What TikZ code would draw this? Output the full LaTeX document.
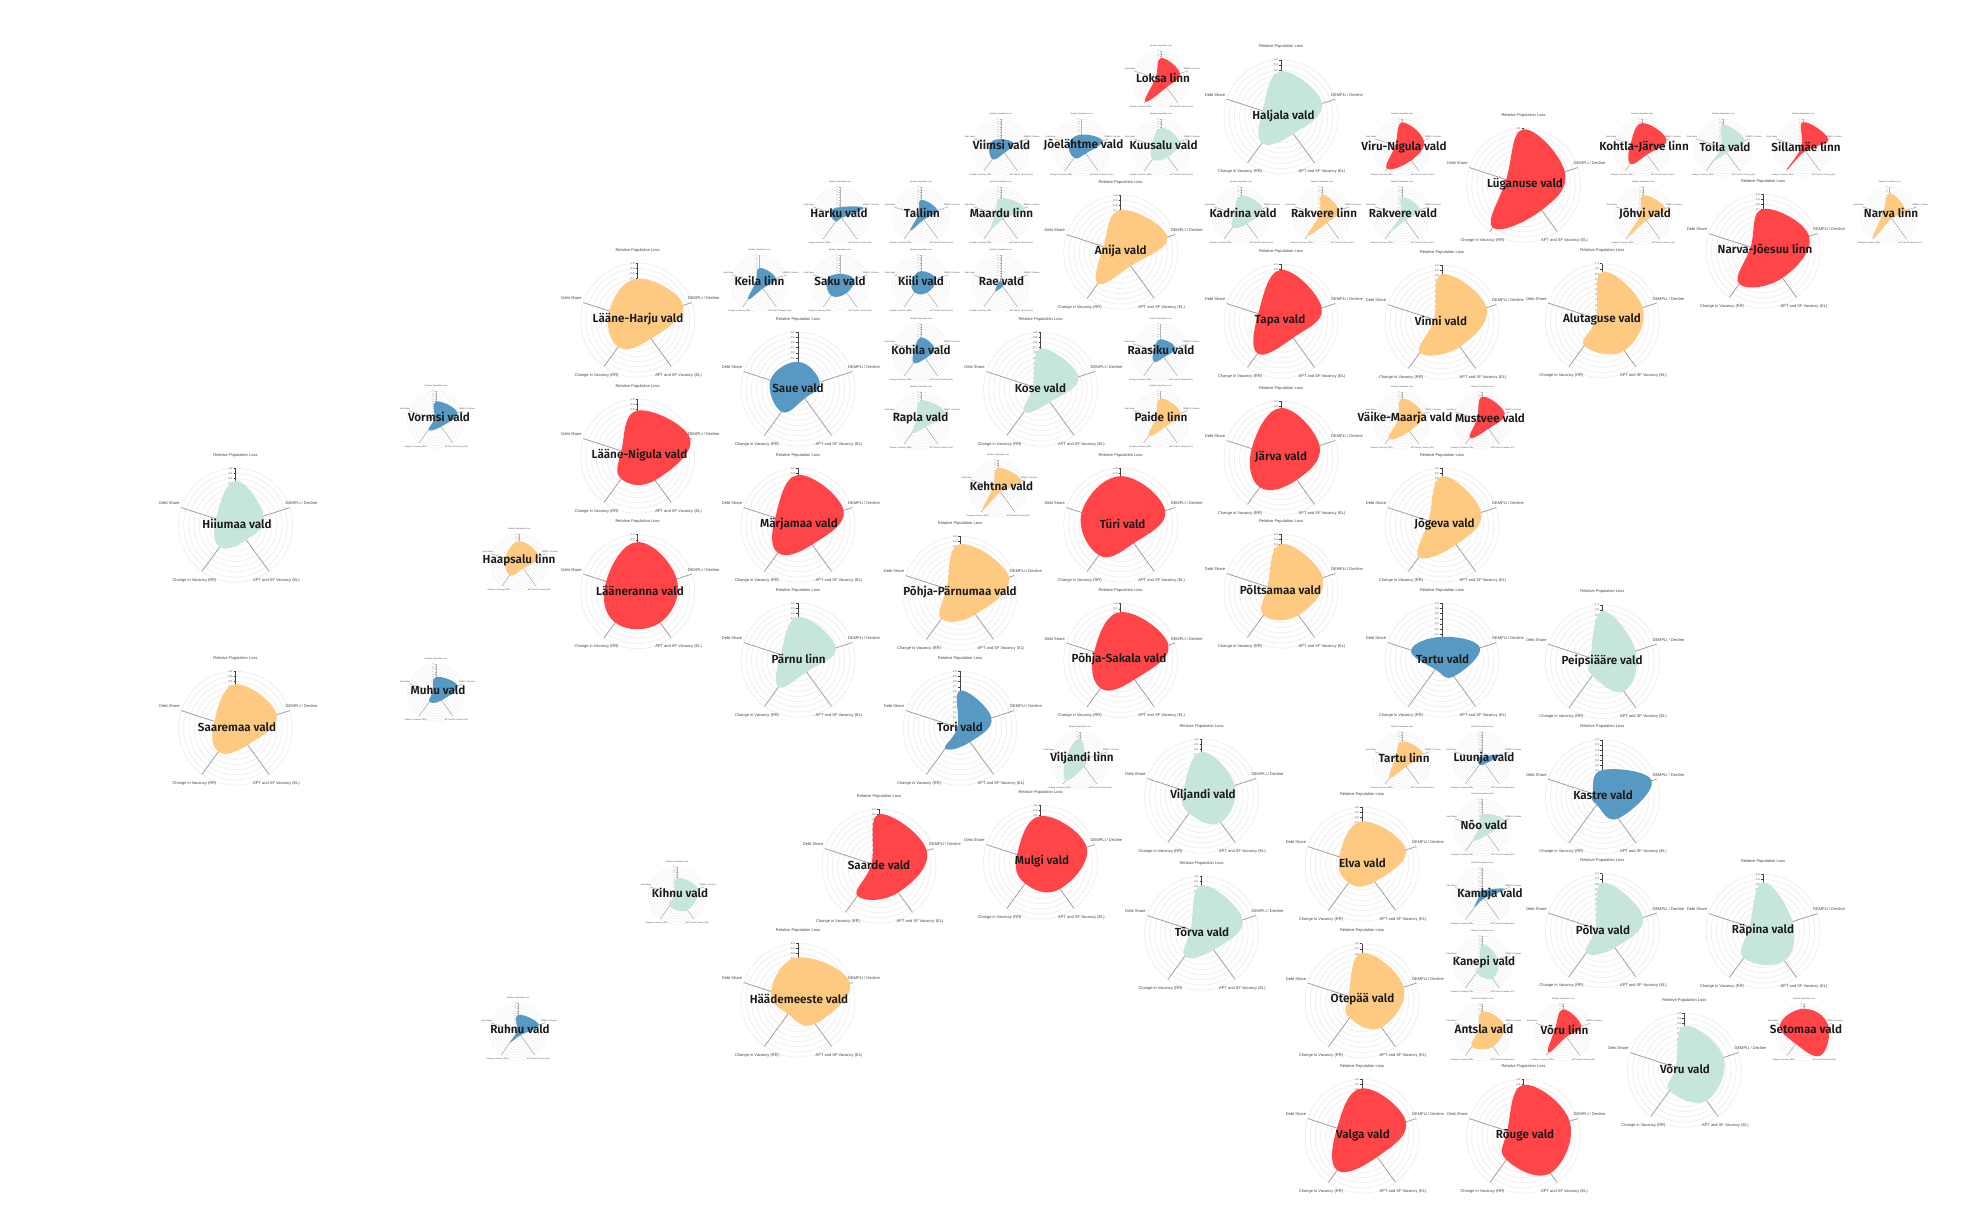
\documentclass[tikz,border=0pt]{standalone}
\usepackage{fontspec}
\setmainfont{Liberation Sans}
\newfontfamily\lblfont{Fira Sans SemiBold}
\pgfdeclarelayer{labels}
\pgfsetlayers{main,labels}
\definecolor{cred}{HTML}{FF4548}
\definecolor{corg}{HTML}{FEC980}
\definecolor{cmint}{HTML}{C7E6DA}
\definecolor{cblue}{HTML}{5799C3}
\definecolor{cring}{HTML}{EEEEEE}
\definecolor{caxis}{HTML}{A0A0A0}
\definecolor{ctxt}{HTML}{444444}
\tikzset{
  axlabel/.style={inner sep=0,text=ctxt},
  ticklabel/.style={inner sep=0,text=ctxt!70,anchor=east},
  mainlabel/.style={inner sep=0,text=black!90,font=\lblfont\fontsize{11.7}{13}\selectfont}
}
\newcount\radarno
\def\parsev#1,#2,#3,#4,#5\relax{\def\va{#1}\def\vb{#2}\def\vc{#3}\def\vd{#4}\def\ve{#5}}
\newcommand{\radar}[8]{%
  \global\advance\radarno by 1
  \edef\rid{r\the\radarno}%
  \parsev#8\relax
  \pgfmathsetmacro\RR{57*#6}%
  \pgfmathsetmacro\stp{\RR/11}%
  \pgfmathsetmacro\afs{4.0*#6}%
  \pgfmathsetmacro\tfs{2.9*#6}%
  \pgfmathsetmacro\lxx{70*#6-4}%
  \pgfmathsetmacro\tyy{73*#6-3}%
  \pgfmathsetmacro\dyy{4.2-3*#6}%
  \pgfmathsetmacro\rw{0.25+0.45*#6}%
  \pgfmathsetmacro\aw{0.1+0.7*#6}%
  \pgfmathsetmacro\tw{0.1+0.4*#6}%
  \pgfmathtruncatemacro\tcl{120*#6-20}%
  \begin{scope}[shift={(#2,#3+\dyy)}]
    \foreach \k in {2,...,11}{\draw[cring,line width=\rw pt] (0,0) circle[radius=\k*\stp];}
    \draw[caxis,line width=\aw pt] (0,{-\RR+9*\stp}) -- (0,0);
    \draw[caxis,line width=\aw pt] (0,0) -- ({.951*\RR},{-.309*\RR});
    \draw[caxis,line width=\aw pt] (0,0) -- ({.588*\RR},{.809*\RR});
    \draw[caxis,line width=\aw pt] (0,0) -- ({-.588*\RR},{.809*\RR});
    \draw[caxis,line width=\aw pt] (0,0) -- ({-.951*\RR},{-.309*\RR});
    \draw[ctxt!\tcl,line width=\tw pt] (0,-\RR) -- (0,{-\RR+9*\stp});
    \foreach \k/\t in {0/1.0,1/0.9,2/0.8,3/0.7,4/0.6,5/0.5,6/0.4,7/0.3,8/0.2,9/0.1}{
      \draw[ctxt!\tcl,line width=\tw pt] (0,{-\RR+\k*\stp}) -- ({-2*#6},{-\RR+\k*\stp});
      \node[ticklabel,font=\fontsize{\tfs}{\tfs}\selectfont] (\rid-t\k) at ({-3*#6},{-\RR+\k*\stp}) {\t};
    }
    \fill[#7] plot[smooth cycle,tension=0.75] coordinates {
      (0,{-\RR*\va})
      ({.951*\RR*\vb},{-.309*\RR*\vb})
      ({.588*\RR*\vc},{.809*\RR*\vc})
      ({-.588*\RR*\vd},{.809*\RR*\vd})
      ({-.951*\RR*\ve},{-.309*\RR*\ve})};
    \node[axlabel,font=\fontsize{\afs}{\afs}\selectfont] (\rid-a) at (0,-\tyy) {Relative Population Loss};
    \node[axlabel,font=\fontsize{\afs}{\afs}\selectfont] (\rid-b) at ({\lxx},{-22*#6}) {DEMPLI / Decline};
    \node[axlabel,font=\fontsize{\afs}{\afs}\selectfont] (\rid-c) at ({41*#6},{55*#6}) {APT and SF Vacancy (EL)};
    \node[axlabel,font=\fontsize{\afs}{\afs}\selectfont] (\rid-d) at ({-41*#6},{55*#6}) {Change in Vacancy (RR)};
    \node[axlabel,font=\fontsize{\afs}{\afs}\selectfont] (\rid-e) at ({-\lxx},{-22*#6}) {Debt Share};
  \end{scope}
  \begin{pgfonlayer}{labels}
    \node[mainlabel] (\rid-name) at (#4,#5) {#1};
  \end{pgfonlayer}
}
\begin{document}
\begin{tikzpicture}[x=1pt,y=-1pt]
\path[use as bounding box,fill=white] (0,0) rectangle (1980,1220);
% large charts
\radar{Hiiumaa vald}{235.5}{524}{237}{524}{1}{cmint}{.78,.52,.32,.47,.36}
\radar{Saaremaa vald}{235.5}{727}{237}{727}{1}{corg}{.77,.76,.36,.51,.39}
\radar{Lääne-Harju vald}{637.6}{319}{638}{319}{1}{corg}{.73,.84,.40,.58,.52}
\radar{Lääne-Nigula vald}{637.6}{455}{639.5}{455}{1}{cred}{.80,.97,.52,.49,.30}
\radar{Lääneranna vald}{637.6}{590.5}{640}{590.5}{1}{cred}{.87,.72,.67,.67,.58}
\radar{Saue vald}{798}{388}{798}{388}{1}{cblue}{.48,.40,.20,.49,.51}
\radar{Märjamaa vald}{798}{524}{799}{524}{1}{cred}{.88,.84,.42,.60,.42}
\radar{Pärnu linn}{798}{659}{798.6}{659}{1}{cmint}{.76,.70,.25,.58,.32}
\radar{Häädemeeste vald}{798}{999}{799}{999}{1}{corg}{.75,.96,.51,.30,.50}
\radar{Saarde vald}{879}{865}{879}{865}{1}{cred}{.91,.88,.57,.64,.14}
\radar{Põhja-Pärnumaa vald}{960}{592}{960}{592}{1}{corg}{.86,.90,.46,.55,.25}
\radar{Tori vald}{960}{727}{960}{727}{1}{cblue}{.66,.58,.30,.44,.05}
\radar{Kose vald}{1040.5}{388}{1040.5}{388}{1}{cmint}{.71,.70,.28,.49,.14}
\radar{Mulgi vald}{1040.5}{861}{1042}{861}{1}{cred}{.81,.85,.58,.46,.43}
\radar{Anija vald}{1120.7}{251}{1120.7}{251}{1}{corg}{.74,.86,.30,.68,.32}
\radar{Türi vald}{1120.7}{524}{1122.6}{524}{1}{cred}{.86,.82,.39,.65,.72}
\radar{Põhja-Sakala vald}{1120.7}{659.4}{1119}{659.4}{1}{cred}{.85,.88,.41,.60,.49}
\radar{Viljandi vald}{1201.5}{795}{1203}{795}{1}{cmint}{.78,.61,.57,.37,.33}
\radar{Tõrva vald}{1201.5}{932}{1202}{932}{1}{cmint}{.84,.76,.36,.50,.20}
\radar{Haljala vald}{1281}{115.6}{1283.5}{115.6}{1}{cmint}{.80,.76,.37,.57,.34}
\radar{Tapa vald}{1281}{320}{1280}{320}{1}{cred}{.90,.75,.36,.70,.42}
\radar{Järva vald}{1281}{457}{1281}{457}{1}{cred}{.88,.71,.47,.63,.54}
\radar{Põltsamaa vald}{1281}{590}{1280.4}{590}{1}{corg}{.83,.77,.52,.52,.25}
\radar{Elva vald}{1362}{863}{1362.5}{863}{1}{corg}{.75,.81,.38,.40,.42}
\radar{Otepää vald}{1362}{999.5}{1362.5}{999.5}{1}{corg}{.84,.77,.58,.37,.25}
\radar{Valga vald}{1362}{1135}{1363}{1135}{1}{cred}{.84,.81,.45,.74,.46}
\radar{Vinni vald}{1442}{321}{1441}{321}{1}{corg}{.84,.82,.53,.66,.15}
\radar{Jõgeva vald}{1442}{524}{1444.5}{524}{1}{corg}{.86,.72,.42,.69,.25}
\radar{Tartu vald}{1442}{659}{1442.6}{659}{1}{cblue}{.41,.70,.35,.20,.57}
\radar{Lüganuse vald}{1523.5}{184}{1525}{184}{1}{cred}{.98,.76,.54,.92,.32}
\radar{Rõuge vald}{1523.5}{1135}{1525}{1135}{1}{cred}{.90,.85,.80,.51,.30}
\radar{Alutaguse vald}{1602.4}{319.5}{1602}{319.5}{1}{corg}{.86,.74,.65,.54,.12}
\radar{Peipsiääre vald}{1602.4}{660.6}{1602}{660.6}{1}{cmint}{.89,.61,.64,.30,.22}
\radar{Kastre vald}{1602.4}{795.6}{1603}{795.6}{1}{cblue}{.47,.91,.47,.17,.18}
\radar{Põlva vald}{1602.4}{929.5}{1603}{929.5}{1}{cmint}{.84,.75,.37,.48,.13}
\radar{Võru vald}{1684.4}{1069}{1685}{1069}{1}{cmint}{.78,.72,.66,.44,.16}
\radar{Räpina vald}{1763}{930}{1763}{930}{1}{cmint}{.86,.54,.64,.58,.25}
\radar{Narva-Jõesuu linn}{1763}{250}{1765}{250}{1}{cred}{.74,.85,.58,.71,.23}
% small charts
\radar{Vormsi vald}{436}{417}{439}{417}{.5}{cblue}{.64,.79,.30,.44,.07}
\radar{Muhu vald}{436}{690}{438}{690}{.5}{cblue}{.55,.79,.33,.39,.12}
\radar{Haapsalu linn}{519}{560}{519}{560}{.5}{corg}{.75,.72,.25,.54,.50}
\radar{Ruhnu vald}{518}{1029}{520}{1029}{.5}{cblue}{.59,.77,.15,.45,.05}
\radar{Kihnu vald}{677}{893}{680}{893}{.5}{cmint}{.62,.77,.62,.45,.10}
\radar{Keila linn}{759.5}{281}{759.5}{281}{.5}{cblue}{.55,.60,.20,.68,.15}
\radar{Harku vald}{840}{213}{839}{213}{.5}{cblue}{.30,.87,.10,.25,.37}
\radar{Saku vald}{840}{281}{840}{281}{.5}{cblue}{.34,.50,.40,.52,.48}
\radar{Tallinn}{921}{213}{922}{213}{.5}{cblue}{.55,.60,.17,.64,.10}
\radar{Kiili vald}{921}{281}{921}{281}{.5}{cblue}{.44,.55,.38,.38,.33}
\radar{Kohila vald}{921}{350}{921}{350}{.5}{cblue}{.53,.50,.25,.44,.25}
\radar{Rapla vald}{921}{418}{920.5}{418}{.5}{cmint}{.71,.90,.27,.52,.15}
\radar{Viimsi vald}{1000.7}{145}{1001.5}{145}{.5}{cblue}{.30,.47,.22,.50,.40}
\radar{Maardu linn}{1000.7}{213}{1001.5}{213}{.5}{cmint}{.62,.87,.15,.55,.20}
\radar{Rae vald}{1000.7}{281}{1001.5}{281}{.5}{cblue}{.08,.12,.12,.32,.08}
\radar{Kehtna vald}{998}{486}{1001.5}{486}{.5}{corg}{.73,.87,.15,.93,.18}
\radar{Jõelähtme vald}{1081.5}{145}{1083.5}{145}{.5}{cblue}{.46,.77,.25,.44,.47}
\radar{Viljandi linn}{1080}{758}{1082}{758}{.5}{cmint}{.78,.20,.25,.85,.50}
\radar{Loksa linn}{1161}{77}{1163}{77.4}{.5}{cred}{.76,.70,.33,.95,.20}
\radar{Kuusalu vald}{1161}{145}{1163.6}{145}{.5}{cmint}{.70,.68,.40,.50,.33}
\radar{Raasiku vald}{1160.5}{350}{1161}{350}{.5}{cblue}{.47,.55,.20,.39,.25}
\radar{Paide linn}{1160.5}{417}{1161}{417}{.5}{corg}{.74,.75,.30,.70,.18}
\radar{Kadrina vald}{1241}{213}{1243}{213}{.5}{cmint}{.71,.80,.35,.50,.25}
\radar{Rakvere linn}{1322}{213}{1324}{213}{.5}{corg}{.74,.62,.30,.85,.10}
\radar{Viru-Nigula vald}{1402}{145}{1404}{147}{.5}{cred}{.88,.80,.55,.90,.25}
\radar{Rakvere vald}{1402}{213}{1403}{213}{.5}{cmint}{.65,.67,.20,.65,.05}
\radar{Väike-Maarja vald}{1402}{418}{1405}{418}{.5}{corg}{.78,.77,.45,.78,.15}
\radar{Tartu linn}{1402}{758}{1404}{758}{.5}{corg}{.68,.77,.25,.73,.25}
\radar{Mustvee vald}{1482.4}{418}{1490}{418}{.5}{cred}{.84,.82,.35,.75,.20}
\radar{Luunja vald}{1482.4}{758}{1484}{758}{.5}{cblue}{.14,.65,.14,.17,.18}
\radar{Nõo vald}{1482.4}{825}{1484}{825}{.5}{cmint}{.48,.82,.30,.55,.10}
\radar{Kambja vald}{1482.4}{893.6}{1490}{893.6}{.5}{cblue}{.20,.82,.10,.47,.10}
\radar{Kanepi vald}{1482.4}{962}{1484}{962}{.5}{cmint}{.71,.58,.60,.36,.10}
\radar{Antsla vald}{1482.4}{1029.5}{1484}{1029.5}{.5}{corg}{.73,.80,.62,.62,.16}
\radar{Võru linn}{1563}{1029.5}{1564.5}{1029.5}{.5}{cred}{.80,.68,.20,.88,.30}
\radar{Kohtla-Järve linn}{1642}{145}{1644}{147}{.5}{cred}{.86,.90,.30,.70,.42}
\radar{Jõhvi vald}{1643}{213}{1645}{214}{.5}{corg}{.71,.82,.20,.88,.10}
\radar{Toila vald}{1723}{145}{1725}{147}{.5}{cmint}{.80,.80,.22,.52,.07}
\radar{Sillamäe linn}{1803}{145}{1806}{147}{.5}{cred}{.89,.93,.14,.95,.07}
\radar{Setomaa vald}{1804}{1029.5}{1806}{1029.5}{.5}{cred}{.82,.88,1.0,.50,.88}
\radar{Narva linn}{1889.6}{213}{1891}{213}{.5}{corg}{.78,.58,.12,1.0,.25}
\end{tikzpicture}
\end{document}
